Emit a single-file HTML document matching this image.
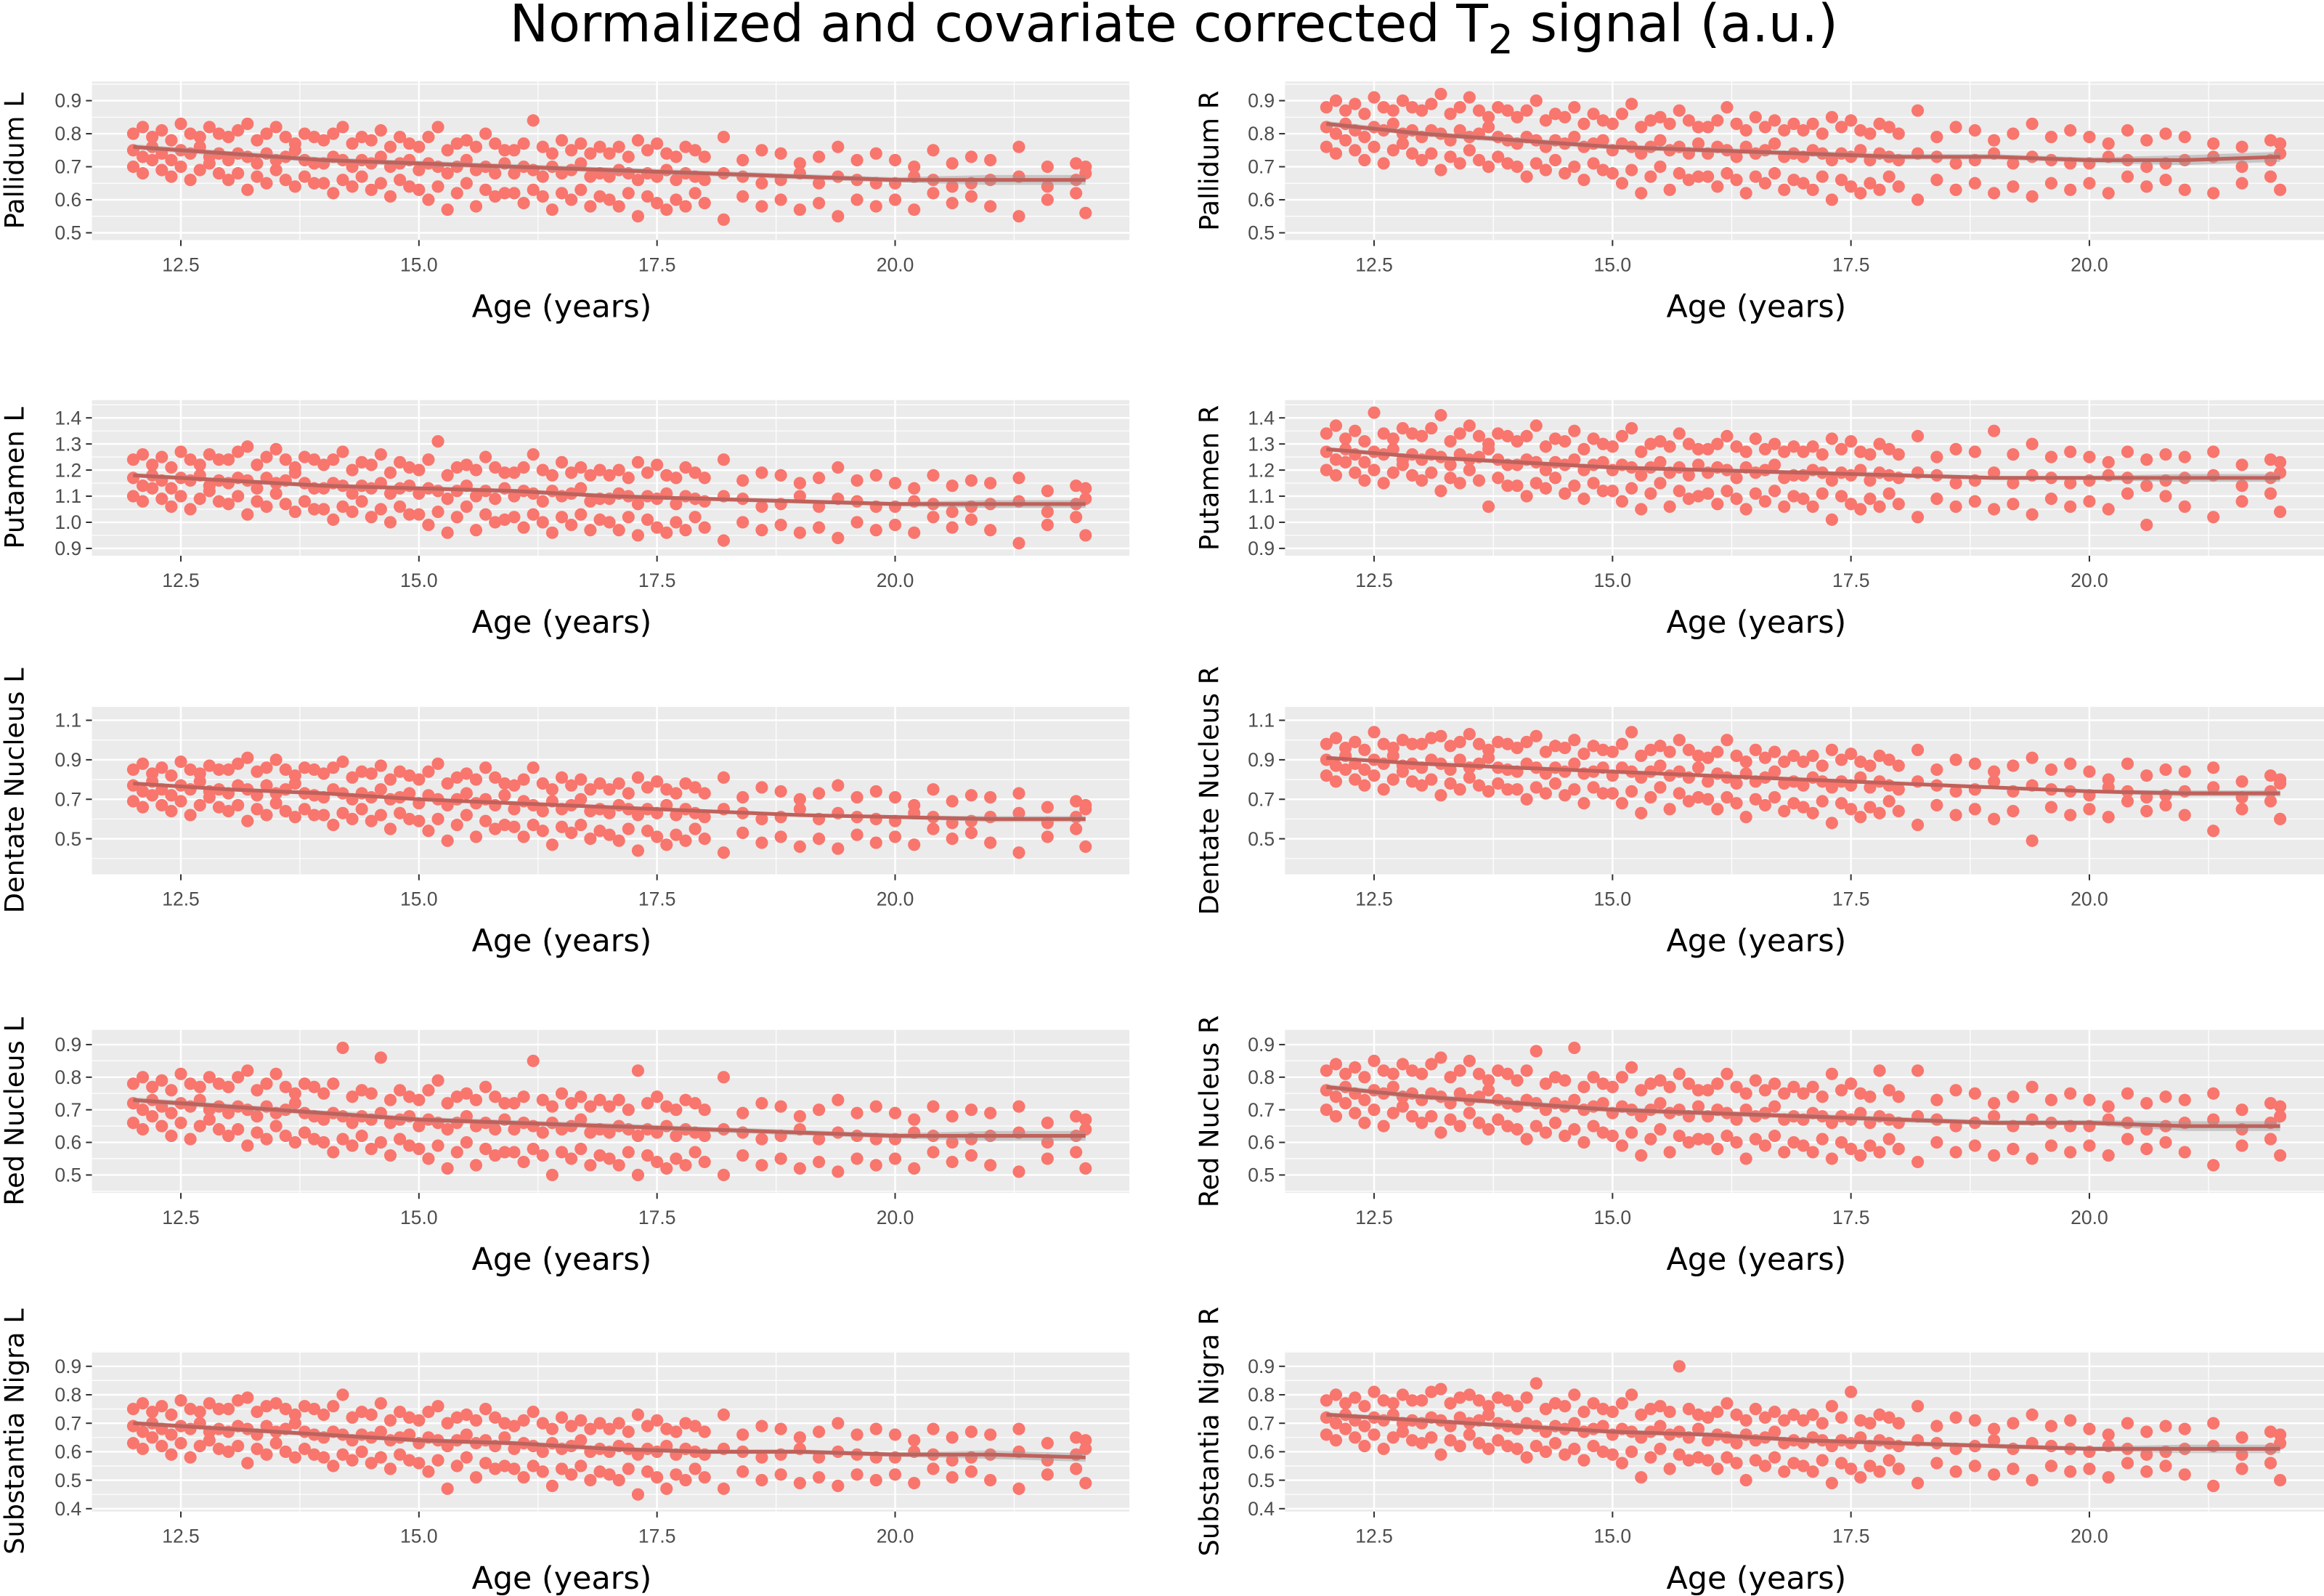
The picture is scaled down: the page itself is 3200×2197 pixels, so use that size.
<!DOCTYPE html>
<html><head><meta charset="utf-8"><style>
html,body{margin:0;padding:0;background:#fff}
svg{display:block}
text{font-family:"Liberation Sans","DejaVu Sans",sans-serif}
.dv{font-family:"DejaVu Sans","Liberation Sans",sans-serif}
</style></head><body>
<svg id="fig" xmlns="http://www.w3.org/2000/svg" width="3200" height="2197" viewBox="0 0 1568 1077" preserveAspectRatio="none">
<text class="dv" x="792" y="28" text-anchor="middle" font-size="35" fill="#000">Normalized and covariate corrected T<tspan font-size="27" dy="8">2</tspan><tspan dy="-8"> signal (a.u.)</tspan></text>
</svg>
<script>
const ages=[12.0,12.1,12.2,12.3,12.4,12.5,12.6,12.7,12.8,12.9,13.0,13.1,13.2,13.3,13.4,13.5,13.6,13.7,13.8,13.9,14.0,14.1,14.2,14.3,14.4,14.5,14.6,14.7,14.8,14.9,15.0,15.1,15.2,15.3,15.4,15.5,15.6,15.7,15.8,15.9,16.0,16.1,16.2,16.3,16.4,16.5,16.6,16.7,16.8,16.9,17.0,17.1,17.2,17.3,17.4,17.5,17.6,17.7,17.8,17.9,18.0,18.2,18.4,18.6,18.8,19.0,19.2,19.4,19.6,19.8,20.0,20.2,20.4,20.6,20.8,21.0,21.3,21.6,21.9,22.0];
const xTicks=[12.5,15.0,17.5,20.0];
const xTickLabels=["12.5","15.0","17.5","20.0"];
const smoothAges=[12,13,14,15,16,17,18,19,20,21,22];

// values in hundredths; three samples per age (hi, mid, lo)
const pallL_hi=[80,82,79,81,78,83,80,79,82,80,79,81,83,78,80,82,79,77,80,79,78,80,82,77,79,78,81,76,79,77,76,79,82,75,77,78,76,80,77,75,75,77,84,76,74,78,75,77,74,76,74,76,73,78,75,77,74,73,76,75,73,79,72,75,74,71,73,76,72,74,72,70,75,71,73,72,76,70,71,70];
const pallL_mid=[75,73,76,74,72,75,74,76,73,74,72,74,73,71,74,72,73,75,72,71,71,73,72,70,72,71,73,70,71,72,69,71,70,68,70,72,69,70,68,71,68,70,69,67,70,68,69,71,67,68,67,69,68,66,68,67,69,66,68,67,66,68,67,65,66,68,65,67,66,65,65,67,66,64,65,66,67,64,66,68];
const pallL_lo=[70,68,72,69,67,70,66,69,71,68,66,68,63,67,65,69,66,64,67,65,65,62,66,64,67,63,65,61,66,64,63,60,64,57,62,65,58,63,61,62,62,59,63,61,57,62,60,63,58,61,60,58,62,55,61,59,57,60,58,62,59,54,61,58,60,57,59,55,60,58,60,57,62,59,61,58,55,60,62,56];
const pallL_fit=[76,74,72,71,70,69,68,67,66,66,66];

const pallR_hi=[88,90,87,89,86,91,88,87,90,88,87,89,92,86,88,91,87,85,88,87,85,87,90,84,86,85,88,83,86,84,83,86,89,82,84,85,83,87,84,82,82,84,88,83,81,85,82,84,81,83,81,83,80,85,82,84,81,80,83,82,80,87,79,82,81,78,80,83,79,81,79,77,81,78,80,79,77,76,78,77];
const pallR_mid=[82,80,83,81,79,82,81,83,80,81,79,81,80,78,81,79,80,82,79,78,77,79,78,76,78,77,79,76,77,78,75,77,76,74,76,78,75,76,74,77,74,76,75,73,76,74,75,77,73,74,73,75,74,72,74,73,75,72,74,73,72,74,73,71,72,74,71,73,72,71,71,73,72,70,71,72,73,70,72,74];
const pallR_lo=[76,74,78,75,72,76,71,75,77,74,72,74,69,73,71,75,72,70,73,71,70,67,71,69,72,68,70,66,71,69,68,65,69,62,67,70,63,68,66,67,67,64,68,66,62,67,65,68,63,66,65,63,67,60,66,64,62,65,63,67,64,60,66,63,65,62,64,61,65,63,65,62,67,64,66,63,62,65,67,63];
const pallR_fit=[83,80,78,76,75,74,73,73,72,72,73];

const putL_hi=[124,126,122,125,121,127,124,122,126,124,124,127,129,122,125,128,124,121,125,124,122,124,127,120,123,122,126,119,123,121,120,124,131,118,121,122,120,125,121,119,119,121,126,120,118,123,119,121,118,120,118,120,117,123,119,122,118,117,121,119,117,124,116,119,118,115,117,121,116,118,115,113,118,114,116,115,117,112,114,113];
const putL_mid=[117,114,118,116,113,117,116,118,114,116,115,117,116,113,117,115,116,119,115,113,113,115,114,111,114,113,115,111,113,114,111,113,112,109,112,114,110,112,109,113,110,112,111,108,112,110,111,113,108,109,109,111,110,107,110,109,111,107,110,109,108,110,109,106,107,110,106,109,108,106,106,108,107,104,106,107,108,104,107,109];
const putL_lo=[110,108,113,109,106,110,105,109,112,108,107,110,103,108,106,111,107,104,108,105,105,101,106,104,108,102,105,100,106,103,103,99,104,96,102,106,97,103,100,101,102,98,103,100,96,102,99,103,97,101,100,97,102,95,101,98,96,100,97,102,98,93,100,97,99,96,98,94,100,97,99,96,102,98,101,97,92,99,102,95];
const putL_fit=[118,116,114,113,112,110,109,108,107,107,107];

const putR_hi=[134,137,132,135,131,142,134,132,136,134,133,136,141,131,134,137,133,130,134,133,131,133,137,129,132,131,135,128,132,130,129,133,136,127,130,131,129,134,130,128,128,130,133,129,127,132,128,130,127,129,127,129,126,132,128,131,127,126,130,128,126,133,125,128,127,135,126,130,125,127,125,123,127,124,126,125,127,122,124,123];
const putR_mid=[127,124,128,126,123,127,126,128,124,126,124,126,125,122,126,124,125,128,124,122,122,124,123,120,123,122,124,120,122,123,120,122,121,118,121,123,119,121,118,122,119,121,120,117,121,119,120,122,117,118,118,120,119,116,119,118,120,116,119,118,117,119,118,115,116,119,115,118,117,115,116,118,117,114,116,117,118,114,117,119];
const putR_lo=[120,118,123,119,116,120,115,119,122,118,116,119,112,117,115,120,116,106,117,114,114,110,115,113,117,111,114,109,115,112,112,108,113,105,111,115,106,112,109,110,111,107,112,109,105,111,108,112,106,110,109,106,111,101,110,107,105,109,106,111,107,102,109,106,108,105,107,103,109,106,108,105,111,99,110,106,102,108,111,104];
const putR_fit=[128,125,123,121,120,119,118,117,117,117,117];

const dentL_hi=[85,88,83,86,82,89,85,83,87,85,85,88,91,84,86,90,85,82,86,85,83,86,89,81,84,83,87,80,84,82,80,84,88,78,81,83,80,86,81,78,77,80,86,78,75,81,77,80,75,78,75,78,73,81,76,79,75,73,78,76,73,81,71,76,74,70,73,77,71,74,71,67,75,69,72,71,73,66,69,67];
const dentL_mid=[77,74,79,75,72,77,75,79,74,75,73,77,75,72,77,73,75,78,73,72,71,75,73,70,73,71,75,70,71,73,68,72,70,67,70,73,68,70,67,72,65,69,67,64,69,65,67,70,64,65,63,67,65,62,65,63,67,62,65,63,61,65,63,60,61,65,60,63,61,60,59,63,61,58,59,61,63,58,61,65];
const dentL_lo=[69,66,72,67,64,69,62,67,71,66,64,67,59,65,62,68,64,61,65,62,62,57,63,60,65,59,62,55,63,60,59,54,60,49,57,62,51,59,55,57,56,51,57,54,47,56,53,57,50,54,52,49,55,44,54,51,47,52,49,55,50,43,53,48,51,46,50,45,52,48,51,47,55,50,53,48,43,51,55,46];
const dentL_fit=[78,75,73,70,68,66,64,62,61,60,60];

const dentR_hi=[98,101,96,99,95,104,98,96,100,98,98,101,102,97,99,103,98,95,99,98,96,99,102,94,97,96,100,93,97,95,94,98,104,92,95,97,94,100,95,92,91,94,100,92,89,95,91,94,89,92,89,92,87,95,90,93,89,87,92,90,87,95,85,90,88,84,87,91,85,88,84,80,88,82,85,84,86,79,82,80];
const dentR_mid=[90,87,92,88,85,90,88,92,87,88,86,90,88,85,90,86,88,91,86,85,84,88,86,83,86,84,88,83,84,86,82,86,84,81,84,87,82,84,81,86,79,83,81,78,83,79,81,84,78,79,77,81,79,76,79,77,81,76,79,77,75,79,77,74,75,79,74,77,75,74,72,76,74,71,72,74,76,71,74,78];
const dentR_lo=[82,79,85,80,77,82,75,80,84,79,77,80,72,78,75,81,77,74,78,75,75,70,76,73,78,72,75,68,76,73,73,68,74,63,71,76,65,73,69,71,70,65,71,68,61,70,67,71,64,68,66,63,69,58,68,65,61,66,63,69,64,57,67,62,65,60,64,49,66,62,65,61,69,64,67,62,54,65,69,60];
const dentR_fit=[91,88,86,84,82,80,78,76,74,73,73];

const redL_hi=[78,80,77,79,76,81,78,77,80,78,77,80,82,76,78,81,77,75,78,77,75,78,89,74,76,75,86,73,76,74,73,76,79,72,74,75,73,77,74,72,72,74,85,73,71,75,72,74,71,73,71,73,70,82,72,74,71,70,73,72,70,80,69,72,71,68,70,73,69,71,69,67,71,68,70,69,71,66,68,67];
const redL_mid=[72,70,73,71,69,72,71,73,70,71,69,71,70,68,71,69,70,72,69,68,67,69,68,66,68,67,69,66,67,68,65,67,66,64,66,68,65,66,64,67,64,66,65,63,66,64,65,67,63,64,63,65,64,62,64,63,65,62,64,63,62,64,63,61,62,64,61,63,62,61,61,63,62,60,61,62,63,60,62,64];
const redL_lo=[66,64,68,65,62,66,61,65,67,64,62,64,59,63,61,65,62,60,63,61,60,57,61,59,62,58,60,56,61,59,58,55,59,52,57,60,53,58,56,57,57,54,58,56,50,57,55,58,53,56,55,53,57,50,56,54,52,55,53,57,54,50,56,53,55,52,54,51,55,53,55,52,57,54,56,53,51,55,57,52];
const redL_fit=[73,71,69,67,66,65,64,63,62,62,62];

const redR_hi=[82,84,81,83,80,85,82,81,84,82,81,84,86,80,82,85,81,79,82,81,79,82,88,78,80,79,89,77,80,78,77,80,83,76,78,79,77,81,78,76,76,78,81,77,75,79,76,78,75,77,75,77,74,81,76,78,75,74,82,76,74,82,73,76,75,72,74,77,73,75,73,71,75,72,74,73,75,70,72,71];
const redR_mid=[76,74,77,75,73,76,75,77,74,75,73,75,74,72,75,73,74,76,73,72,71,73,72,70,72,71,73,70,71,72,69,71,70,68,70,72,69,70,68,71,68,70,69,67,70,68,69,71,67,68,67,69,68,66,68,67,69,66,68,67,66,68,67,65,66,68,65,67,66,65,65,67,66,64,65,66,67,64,66,68];
const redR_lo=[70,68,72,69,66,70,65,69,71,68,66,68,63,67,65,69,66,64,67,65,64,61,65,63,66,62,64,60,65,63,62,59,63,56,61,64,57,62,60,61,61,58,62,60,55,61,59,62,57,60,59,57,61,55,60,58,56,59,57,61,58,54,60,57,59,56,58,55,59,57,59,56,61,58,60,57,53,59,61,56];
const redR_fit=[77,74,72,70,69,68,67,66,66,65,65];

const snL_hi=[75,77,74,76,73,78,75,74,77,75,75,78,79,74,76,77,75,73,76,75,73,76,80,72,74,73,77,71,74,72,71,74,76,70,72,73,71,75,72,70,69,71,74,70,68,72,69,71,68,70,68,70,67,73,69,71,68,67,70,69,67,73,66,69,68,65,67,70,66,68,66,64,68,65,67,66,68,63,65,64];
const snL_mid=[69,67,70,68,66,69,68,70,67,68,67,69,68,66,69,67,68,70,67,66,65,67,66,64,66,65,67,64,65,66,63,65,64,62,64,66,63,64,62,65,61,63,62,60,63,61,62,64,60,61,60,62,61,59,61,60,62,59,61,60,59,61,60,58,59,61,58,60,59,58,58,60,59,57,58,59,60,57,59,61];
const snL_lo=[63,61,65,62,59,63,58,62,64,61,60,62,56,61,59,63,60,58,61,59,58,55,59,57,60,56,58,54,59,57,56,53,57,47,55,58,51,56,54,55,54,51,55,53,48,54,52,55,50,53,52,50,54,45,53,51,47,52,50,54,51,47,53,50,52,49,51,48,52,50,52,49,54,51,53,50,47,52,54,49];
const snL_fit=[70,68,66,64,63,61,60,60,59,59,58];

const snR_hi=[78,80,77,79,76,81,78,77,80,78,78,81,82,77,79,80,78,76,79,78,76,79,84,75,77,76,80,74,77,75,74,77,80,73,75,76,74,90,75,73,72,74,77,73,71,75,72,74,71,73,71,73,70,76,72,81,71,70,73,72,70,76,69,72,71,68,70,73,69,71,68,66,70,67,69,68,70,65,67,66];
const snR_mid=[72,70,73,71,69,72,71,73,70,71,70,72,71,69,72,70,71,73,70,69,68,70,69,67,69,68,70,67,68,69,66,68,67,65,67,69,66,67,65,68,64,66,65,63,66,64,65,67,63,64,63,65,64,62,64,63,65,62,64,63,62,64,63,61,62,64,61,63,62,61,60,62,61,59,60,61,62,59,61,63];
const snR_lo=[66,64,68,65,62,66,61,65,67,64,63,65,59,64,62,66,63,61,64,62,61,58,62,60,63,59,61,57,62,60,59,56,60,51,58,61,54,59,57,58,57,54,58,56,50,57,55,58,53,56,55,53,57,49,56,54,51,55,53,57,54,49,56,53,55,52,54,50,55,53,54,51,56,53,55,52,48,54,56,50];
const snR_fit=[73,71,69,67,66,64,63,62,61,61,61];

const panels=[
 {id:'pallidum-l',title:'Pallidum L',col:0,row:0,ymin:0.478,ymax:0.958,ticks:[0.5,0.6,0.7,0.8,0.9],tl:["0.5","0.6","0.7","0.8","0.9"],s:[pallL_hi,pallL_mid,pallL_lo],fit:pallL_fit},
 {id:'pallidum-r',title:'Pallidum R',col:1,row:0,ymin:0.478,ymax:0.958,ticks:[0.5,0.6,0.7,0.8,0.9],tl:["0.5","0.6","0.7","0.8","0.9"],s:[pallR_hi,pallR_mid,pallR_lo],fit:pallR_fit},
 {id:'putamen-l',title:'Putamen L',col:0,row:1,ymin:0.872,ymax:1.468,ticks:[0.9,1.0,1.1,1.2,1.3,1.4],tl:["0.9","1.0","1.1","1.2","1.3","1.4"],s:[putL_hi,putL_mid,putL_lo],fit:putL_fit},
 {id:'putamen-r',title:'Putamen R',col:1,row:1,ymin:0.872,ymax:1.468,ticks:[0.9,1.0,1.1,1.2,1.3,1.4],tl:["0.9","1.0","1.1","1.2","1.3","1.4"],s:[putR_hi,putR_mid,putR_lo],fit:putR_fit},
 {id:'dentate-l',title:'Dentate Nucleus L',col:0,row:2,ymin:0.32,ymax:1.168,ticks:[0.5,0.7,0.9,1.1],tl:["0.5","0.7","0.9","1.1"],s:[dentL_hi,dentL_mid,dentL_lo],fit:dentL_fit},
 {id:'dentate-r',title:'Dentate Nucleus R',col:1,row:2,ymin:0.32,ymax:1.168,ticks:[0.5,0.7,0.9,1.1],tl:["0.5","0.7","0.9","1.1"],s:[dentR_hi,dentR_mid,dentR_lo],fit:dentR_fit},
 {id:'red-l',title:'Red Nucleus L',col:0,row:3,ymin:0.445,ymax:0.945,ticks:[0.5,0.6,0.7,0.8,0.9],tl:["0.5","0.6","0.7","0.8","0.9"],s:[redL_hi,redL_mid,redL_lo],fit:redL_fit},
 {id:'red-r',title:'Red Nucleus R',col:1,row:3,ymin:0.445,ymax:0.945,ticks:[0.5,0.6,0.7,0.8,0.9],tl:["0.5","0.6","0.7","0.8","0.9"],s:[redR_hi,redR_mid,redR_lo],fit:redR_fit},
 {id:'substantia-l',title:'Substantia Nigra L',col:0,row:4,ymin:0.39,ymax:0.952,ticks:[0.4,0.5,0.6,0.7,0.8,0.9],tl:["0.4","0.5","0.6","0.7","0.8","0.9"],s:[snL_hi,snL_mid,snL_lo],fit:snL_fit},
 {id:'substantia-r',title:'Substantia Nigra R',col:1,row:4,ymin:0.39,ymax:0.952,ticks:[0.4,0.5,0.6,0.7,0.8,0.9],tl:["0.4","0.5","0.6","0.7","0.8","0.9"],s:[snR_hi,snR_mid,snR_lo],fit:snR_fit}
];
const colX=[[62,762],[867,1568]];
const rowY=[[55,162],[270,375],[477,590],[695,805],[912,1020]];
const xmin=11.566,xmax=22.46;
const NS='http://www.w3.org/2000/svg';
const svg=document.getElementById('fig');
function mk(tag,attrs,parent){const e=document.createElementNS(NS,tag);for(const k in attrs)e.setAttribute(k,attrs[k]);(parent||svg).appendChild(e);return e;}

panels.forEach(p=>{
 const [x0,x1]=colX[p.col],[y0,y1]=rowY[p.row];
 const sx=v=>x0+(v-xmin)/(xmax-xmin)*(x1-x0);
 const sy=v=>y1-(v-p.ymin)/(p.ymax-p.ymin)*(y1-y0);
 const g=mk('g',{});
 
 
 const bg=mk('rect',{x:x0,y:y0,width:x1-x0,height:y1-y0,fill:'#EBEBEB'},g);
 
 
 const step=p.ticks[1]-p.ticks[0];
 for(let i=-1;i<p.ticks.length;i++){const v=p.ticks[0]+step*(i+0.5);if(v>p.ymin&&v<p.ymax)mk('line',{x1:x0,x2:x1,y1:sy(v),y2:sy(v),stroke:'#fff','stroke-width':0.6},g);}
 for(let i=-1;i<xTicks.length;i++){const v=12.5+2.5*(i+0.5);if(v>xmin&&v<xmax)mk('line',{x1:sx(v),x2:sx(v),y1:y0,y2:y1,stroke:'#fff','stroke-width':0.6},g);}
 p.ticks.forEach((v,i)=>{
  mk('line',{x1:x0,x2:x1,y1:sy(v),y2:sy(v),stroke:'#fff','stroke-width':1.2},g);
  mk('line',{x1:x0-4,x2:x0,y1:sy(v),y2:sy(v),stroke:'#333','stroke-width':1},g);
  const t=mk('text',{x:x0-7,y:sy(v)+4.5,'text-anchor':'end','font-size':13,fill:'#4D4D4D'},g);t.textContent=p.tl[i];
  
  
 });
 xTicks.forEach((v,i)=>{
  mk('line',{x1:sx(v),x2:sx(v),y1:y0,y2:y1,stroke:'#fff','stroke-width':1.2},g);
  mk('line',{x1:sx(v),x2:sx(v),y1:y1,y2:y1+4,stroke:'#333','stroke-width':1},g);
  const t=mk('text',{x:sx(v),y:y1+21,'text-anchor':'middle','font-size':13,fill:'#4D4D4D'},g);t.textContent=xTickLabels[i];
  
  
 });
 const pts=mk('g',{fill:'#F8766D'},g);
 
 
 p.s.forEach(arr=>arr.forEach((v,i)=>{
  const c=mk('circle',{cx:sx(ages[i]),cy:sy(v/100),r:4.2},pts);
  
  
 }));
 let up='',dn='';
 smoothAges.forEach((a,i)=>{const w=(i>8?0.015:0.008);up+=(i?'L':'M')+sx(a)+','+sy(p.fit[i]/100+w);});
 for(let i=smoothAges.length-1;i>=0;i--){const w=(i>8?0.015:0.008);dn+='L'+sx(smoothAges[i])+','+sy(p.fit[i]/100-w);}
 const rb=mk('path',{d:up+dn+'Z',fill:'#999','fill-opacity':0.45},g);
 
 
 const ln=mk('polyline',{points:smoothAges.map((a,i)=>sx(a)+','+sy(p.fit[i]/100)).join(' '),fill:'none',stroke:'#C0615B','stroke-width':2.5},g);
 
 
 const xt=mk('text',{class:'dv',x:p.col?1185:379,y:y1+52,'text-anchor':'middle','font-size':21,fill:'#000'},g);xt.textContent='Age (years)';
 
 
 const cy=(y0+y1)/2,cxp=p.col?822:16;
 const yt=mk('text',{class:'dv',x:cxp,y:cy,'text-anchor':'middle','font-size':18,fill:'#000',transform:'rotate(-90 '+cxp+' '+cy+')'},g);yt.textContent=p.title;
 
 
});
</script>
</body></html>
